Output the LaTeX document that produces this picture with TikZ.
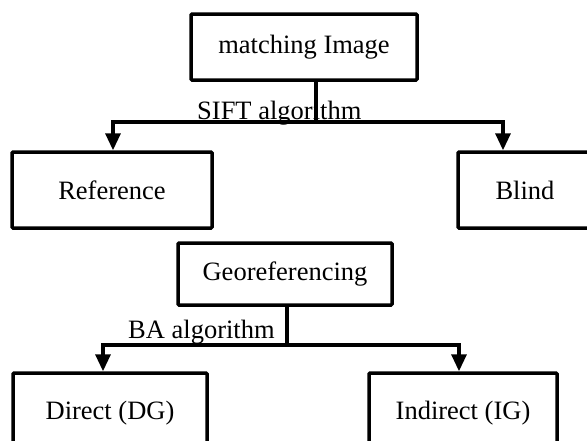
\documentclass[tikz,border=0pt]{standalone}
\usepackage{fontspec}
\setmainfont{Liberation Serif}
\usetikzlibrary{arrows.meta}
\begin{document}
\begin{tikzpicture}[x=1pt,y=-1pt,
  box/.style={draw=black,line width=3.5pt,rounded corners=1pt,inner sep=0pt,
    font=\fontsize{26.5}{30}\selectfont},
  lbl/.style={inner sep=0pt,font=\fontsize{26.5}{30}\selectfont},
  conn/.style={line width=3.3pt},
  arr/.style={line width=3.3pt,-{Triangle[length=17pt,width=15pt]}}]
\useasboundingbox (0,0) rectangle (587,440);
% boxes
\node[box,minimum width=226pt,minimum height=66pt] (mi) at (304,47) {matching Image};
\node[box,minimum width=200pt,minimum height=76pt] (ref) at (112,190) {Reference};
\node[box,minimum width=134pt,minimum height=76pt] (blind) at (525,190) {Blind};
\node[box,minimum width=214pt,minimum height=62pt] (geo) at (285,274) {Georeferencing};
\node[box,minimum width=194pt,minimum height=80pt] (dg) at (110,413) {Direct (DG)};
\node[box,minimum width=188pt,minimum height=80pt] (ig) at (463,413) {Indirect (IG)};
% labels
\node[lbl,anchor=base west] (sift) at (197,119) {SIFT algorithm};
\node[lbl,anchor=base west] (ba) at (128,338) {BA algorithm};
% junctions
\coordinate (j1) at (316,122);
\coordinate (a1) at (113,0);
\coordinate (a2) at (503,0);
\coordinate (j2) at (287,345);
\coordinate (b1) at (103,0);
\coordinate (b2) at (459,0);
% connectors
\draw[conn] (mi.south -| j1) -- (j1);
\draw[arr] (j1) -| (ref.north -| a1);
\draw[arr] (j1) -| (blind.north -| a2);
\draw[conn] (geo.south -| j2) -- (j2);
\draw[arr] (j2) -| (dg.north -| b1);
\draw[arr] (j2) -| (ig.north -| b2);
\end{tikzpicture}
\end{document}
